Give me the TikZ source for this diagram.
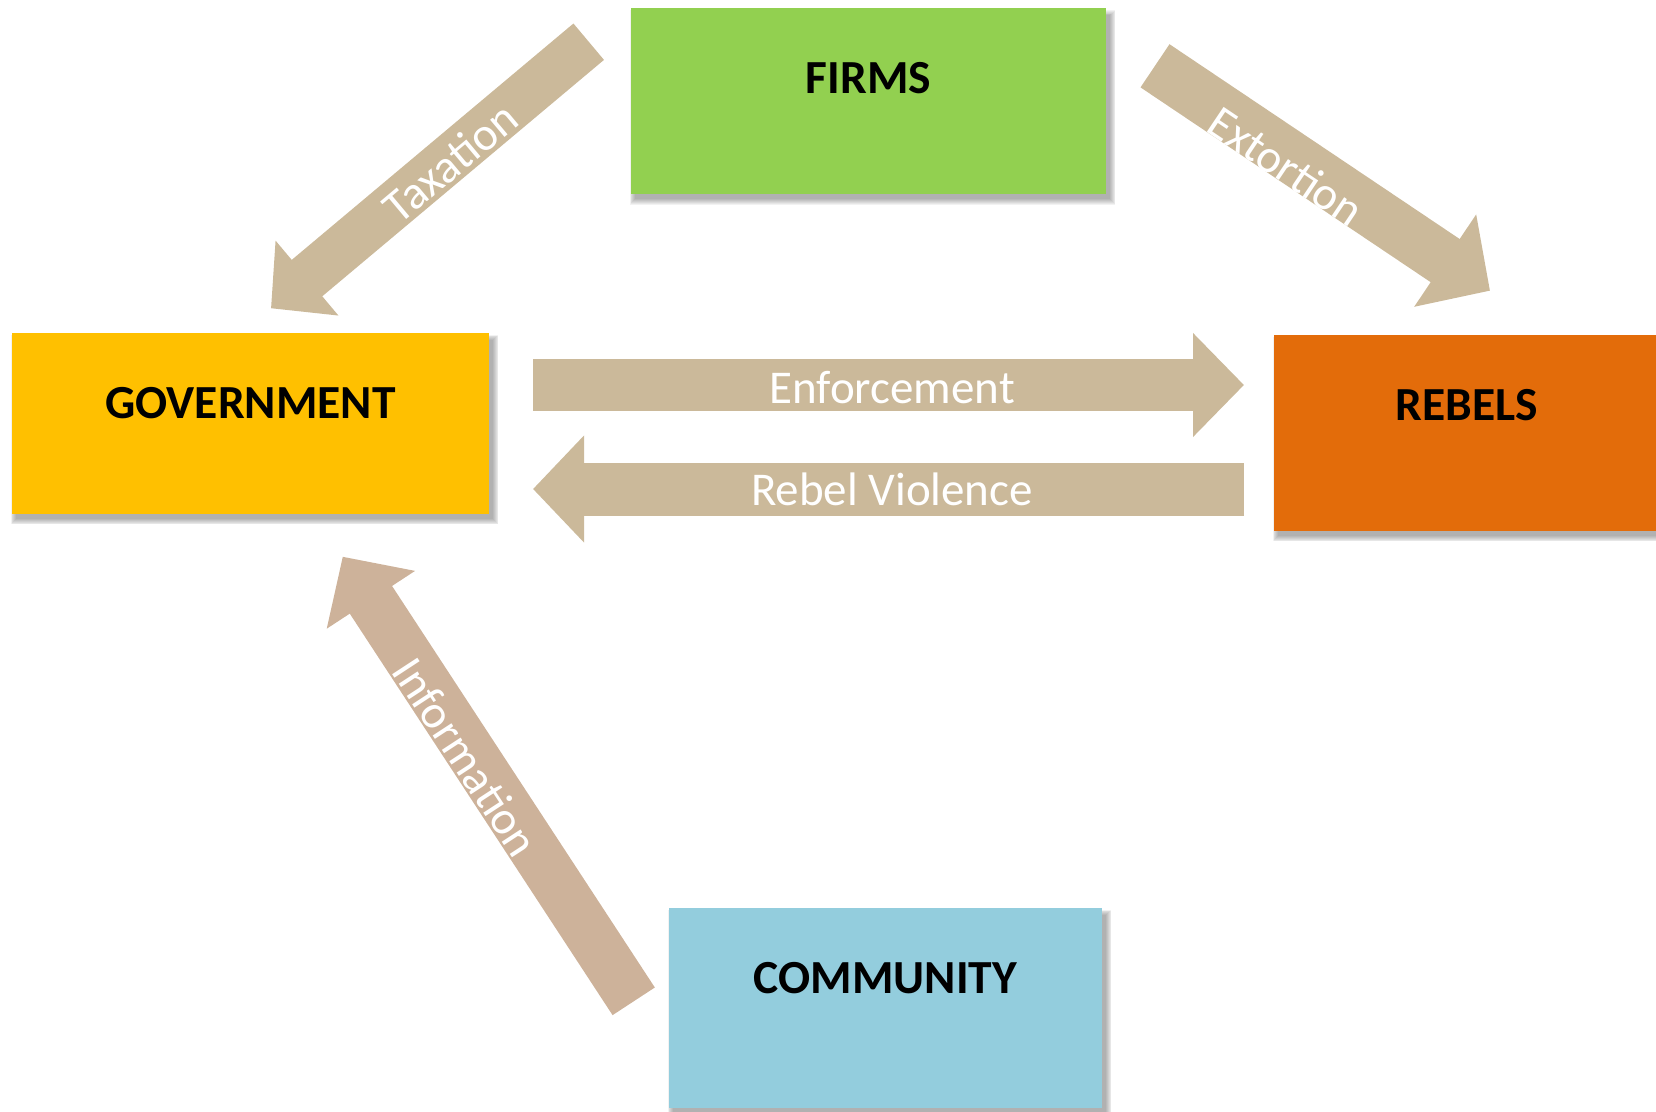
\documentclass[tikz,border=0pt]{standalone}
\usepackage{fontspec}
\setmainfont{Carlito}
\usetikzlibrary{arrows.meta,calc}

\definecolor{firmgreen}{HTML}{92D050}
\definecolor{govgold}{HTML}{FFC000}
\definecolor{rebelorange}{HTML}{E36C0A}
\definecolor{commblue}{HTML}{93CDDD}
\definecolor{flowtan}{HTML}{CBB99A}
\definecolor{flowrose}{HTML}{CDB29A}

\pgfdeclarelayer{background}
\pgfsetlayers{background,main}

\tikzset{
  actor/.style={rectangle, inner sep=0pt, outer sep=0pt, draw=none, anchor=north west},
  title/.style={font=\bfseries\fontsize{47.5}{50}\selectfont, text=black, inner sep=0pt},
  flowlabel/.style={font=\fontsize{47}{50}\selectfont, text=white, inner sep=0pt},
  flow/.style n args={4}{draw=#4, line width=#1, line cap=butt,
    -{Triangle[width=#2, length=#3]}},
}

% soft drop shadow behind a box node
\newcommand{\softshadow}[1]{%
  \begin{pgfonlayer}{background}
    \foreach \k in {0,...,6}{
      \fill[black, opacity=0.05]
        ($(#1.north west)+(4-\k*0.9,7-\k*0.9)$) rectangle
        ($(#1.south east)+(4+\k*0.9,5+\k*0.9)$);
    }
  \end{pgfonlayer}}

\begin{document}
\begin{tikzpicture}[x=1pt, y=-1pt]
  \useasboundingbox (0,0) rectangle (1656,1111);

  % actors
  \node[actor, fill=firmgreen, minimum width=475pt, minimum height=186pt] (firms) at (631,8.3) {};
  \node[actor, fill=govgold, minimum width=477pt, minimum height=181pt] (gov) at (12,333) {};
  \node[actor, fill=rebelorange, minimum width=382pt, minimum height=196pt] (rebels) at (1274,335) {};
  \node[actor, fill=commblue, minimum width=433pt, minimum height=199.5pt] (comm) at (669,908) {};

  \softshadow{firms}
  \softshadow{gov}
  \softshadow{rebels}
  \softshadow{comm}

  \node[title] (firmsT) at ([yshift=-70pt]firms.north) {FIRMS};
  \node[title] (govT) at ([yshift=-70pt]gov.north) {GOVERNMENT};
  \node[title] (rebelsT) at ([xshift=2pt,yshift=-70pt]rebels.north) {REBELS};
  \node[title] (commT) at ([yshift=-70pt]comm.north) {COMMUNITY};

  % arrow end points
  \coordinate (taxS) at (588.7,41.7);
  \coordinate (taxE) at (271,308.3);
  \coordinate (extS) at (1155,65.8);
  \coordinate (extE) at (1490,290.7);
  \coordinate (infS) at (633.7,1001.3);
  \coordinate (infE) at (342.7,556.7);
  \coordinate (enfS) at (533,385);
  \coordinate (enfE) at (1244,385);
  \coordinate (vioS) at (1244,489);
  \coordinate (vioE) at (533,489);

  % flows between the actors
  \draw[flow={47.5pt}{95pt}{47pt}{flowtan}] (taxS) -- (taxE);
  \draw[flow={52pt}{108pt}{54pt}{flowtan}] (extS) -- (extE);
  \draw[flow={50.5pt}{102.5pt}{51.5pt}{flowrose}] (infS) -- (infE);
  \draw[flow={52pt}{101pt}{51pt}{flowtan}] (enfS) -- (enfE);
  \draw[flow={53pt}{104pt}{51pt}{flowtan}] (vioS) -- (vioE);

  \node[flowlabel, rotate=40] (taxL) at (450,162) {Taxation};
  \node[flowlabel, rotate=-33.9] (extL) at (1286,166) {Extortion};
  \node[flowlabel, rotate=-56.8] (infL) at (466,757) {Information};
  \node[flowlabel] (enfL) at (892,388) {Enforcement};
  \node[flowlabel] (vioL) at (892,489) {Rebel Violence};
\end{tikzpicture}
\end{document}
